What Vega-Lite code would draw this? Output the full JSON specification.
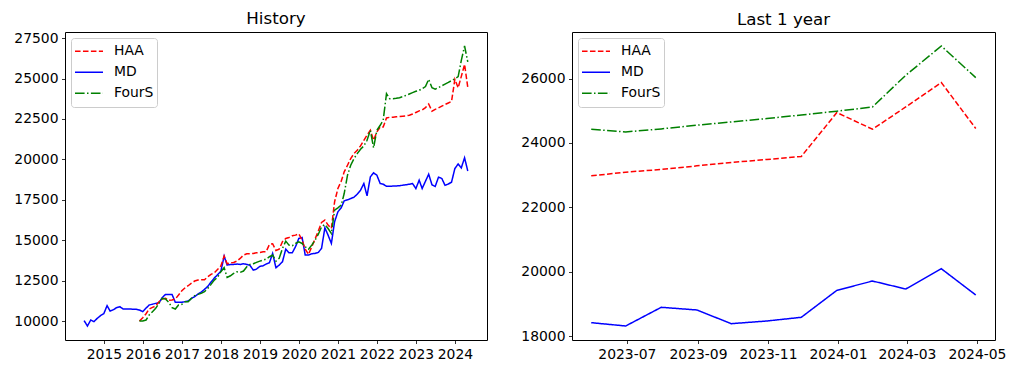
{
"$schema": "https://vega.github.io/schema/vega-lite/v6.json",
"background": "white",
"padding": {"left": 13, "top": 10, "right": 5, "bottom": 5},
"bounds": "flush",
"spacing": 85,
"config": {
 "font": "DejaVu Sans",
 "view": {"stroke": "black", "strokeWidth": 1},
 "axis": {"grid": false, "domain": false, "tickColor": "black", "tickSize": 3.5, "tickWidth": 0.8, "labelColor": "black", "labelFontSize": 13.9, "labelFont": "DejaVu Sans", "labelPadding": 3.5, "labelFlush": false, "labelOverlap": false},
 "title": {"fontSize": 16.7, "fontWeight": "normal", "font": "DejaVu Sans", "color": "black", "offset": 3, "baseline": "alphabetic", "anchor": "middle", "frame": "group"},
 "legend": {"orient": "top-left", "offset": 6, "padding": 3, "symbolType": "stroke", "symbolSize": 784, "symbolStrokeWidth": 1.5, "labelFontSize": 13.9, "labelFont": "DejaVu Sans", "labelColor": "black", "strokeColor": "#cccccc", "fillColor": "rgba(255,255,255,0.8)", "cornerRadius": 3, "rowPadding": 0, "labelOffset": 10, "clipHeight": 20.7}
},
"data": {"values": [
{"date":"2014-06-30","series":"MD","value":10021},
{"date":"2014-07-31","series":"MD","value":9691},
{"date":"2014-08-31","series":"MD","value":10062},
{"date":"2014-09-30","series":"MD","value":9959},
{"date":"2014-10-31","series":"MD","value":10165},
{"date":"2014-11-30","series":"MD","value":10329},
{"date":"2014-12-31","series":"MD","value":10453},
{"date":"2015-01-31","series":"MD","value":10947},
{"date":"2015-02-28","series":"MD","value":10618},
{"date":"2015-03-31","series":"MD","value":10700},
{"date":"2015-04-30","series":"MD","value":10824},
{"date":"2015-05-31","series":"MD","value":10885},
{"date":"2015-06-30","series":"MD","value":10741},
{"date":"2015-07-31","series":"MD","value":10741},
{"date":"2015-08-31","series":"MD","value":10741},
{"date":"2015-09-30","series":"MD","value":10730},
{"date":"2015-10-31","series":"MD","value":10721},
{"date":"2015-11-30","series":"MD","value":10680},
{"date":"2015-12-31","series":"MD","value":10577},
{"date":"2016-01-31","series":"MD","value":10800},
{"date":"2016-02-29","series":"MD","value":10988},
{"date":"2016-03-31","series":"MD","value":11040},
{"date":"2016-04-30","series":"MD","value":11091},
{"date":"2016-05-31","series":"MD","value":11132},
{"date":"2016-06-30","series":"MD","value":11441},
{"date":"2016-07-31","series":"MD","value":11647},
{"date":"2016-08-31","series":"MD","value":11647},
{"date":"2016-09-30","series":"MD","value":11647},
{"date":"2016-10-31","series":"MD","value":11153},
{"date":"2016-11-30","series":"MD","value":11153},
{"date":"2016-12-31","series":"MD","value":11153},
{"date":"2017-01-31","series":"MD","value":11200},
{"date":"2017-02-28","series":"MD","value":11235},
{"date":"2017-03-31","series":"MD","value":11400},
{"date":"2017-04-30","series":"MD","value":11503},
{"date":"2017-05-31","series":"MD","value":11668},
{"date":"2017-06-30","series":"MD","value":11791},
{"date":"2017-07-31","series":"MD","value":11956},
{"date":"2017-08-31","series":"MD","value":12141},
{"date":"2017-09-30","series":"MD","value":12409},
{"date":"2017-10-31","series":"MD","value":12656},
{"date":"2017-11-30","series":"MD","value":12862},
{"date":"2017-12-31","series":"MD","value":13068},
{"date":"2018-01-31","series":"MD","value":14015},
{"date":"2018-02-28","series":"MD","value":13459},
{"date":"2018-03-31","series":"MD","value":13500},
{"date":"2018-04-30","series":"MD","value":13500},
{"date":"2018-05-31","series":"MD","value":13521},
{"date":"2018-06-30","series":"MD","value":13500},
{"date":"2018-07-31","series":"MD","value":13541},
{"date":"2018-08-31","series":"MD","value":13500},
{"date":"2018-09-30","series":"MD","value":13438},
{"date":"2018-10-31","series":"MD","value":13150},
{"date":"2018-11-30","series":"MD","value":13212},
{"date":"2018-12-31","series":"MD","value":13377},
{"date":"2019-01-31","series":"MD","value":13418},
{"date":"2019-02-28","series":"MD","value":13521},
{"date":"2019-03-31","series":"MD","value":13603},
{"date":"2019-04-30","series":"MD","value":14180},
{"date":"2019-05-31","series":"MD","value":13294},
{"date":"2019-06-30","series":"MD","value":13459},
{"date":"2019-07-31","series":"MD","value":13665},
{"date":"2019-08-31","series":"MD","value":14447},
{"date":"2019-09-30","series":"MD","value":14221},
{"date":"2019-10-31","series":"MD","value":14221},
{"date":"2019-11-30","series":"MD","value":14592},
{"date":"2019-12-31","series":"MD","value":15106},
{"date":"2020-01-31","series":"MD","value":15168},
{"date":"2020-02-29","series":"MD","value":14077},
{"date":"2020-03-31","series":"MD","value":14077},
{"date":"2020-04-30","series":"MD","value":14159},
{"date":"2020-05-31","series":"MD","value":14180},
{"date":"2020-06-30","series":"MD","value":14241},
{"date":"2020-07-31","series":"MD","value":14489},
{"date":"2020-08-31","series":"MD","value":15765},
{"date":"2020-09-30","series":"MD","value":15312},
{"date":"2020-10-31","series":"MD","value":14797},
{"date":"2020-11-30","series":"MD","value":16136},
{"date":"2020-12-31","series":"MD","value":16754},
{"date":"2021-01-31","series":"MD","value":17001},
{"date":"2021-02-28","series":"MD","value":17433},
{"date":"2021-03-31","series":"MD","value":17495},
{"date":"2021-04-30","series":"MD","value":17577},
{"date":"2021-05-31","series":"MD","value":17660},
{"date":"2021-06-30","series":"MD","value":17845},
{"date":"2021-07-31","series":"MD","value":18092},
{"date":"2021-08-31","series":"MD","value":18504},
{"date":"2021-09-30","series":"MD","value":17742},
{"date":"2021-10-31","series":"MD","value":18915},
{"date":"2021-11-30","series":"MD","value":19163},
{"date":"2021-12-31","series":"MD","value":19018},
{"date":"2022-01-31","series":"MD","value":18504},
{"date":"2022-02-28","series":"MD","value":18463},
{"date":"2022-03-31","series":"MD","value":18339},
{"date":"2022-04-30","series":"MD","value":18339},
{"date":"2022-05-31","series":"MD","value":18345},
{"date":"2022-06-30","series":"MD","value":18350},
{"date":"2022-07-31","series":"MD","value":18370},
{"date":"2022-08-31","series":"MD","value":18400},
{"date":"2022-09-30","series":"MD","value":18430},
{"date":"2022-10-31","series":"MD","value":18460},
{"date":"2022-11-30","series":"MD","value":18504},
{"date":"2022-12-31","series":"MD","value":18195},
{"date":"2023-01-31","series":"MD","value":18710},
{"date":"2023-02-28","series":"MD","value":18195},
{"date":"2023-03-31","series":"MD","value":18648},
{"date":"2023-04-30","series":"MD","value":19080},
{"date":"2023-05-31","series":"MD","value":18422},
{"date":"2023-06-30","series":"MD","value":18319},
{"date":"2023-07-31","series":"MD","value":18899},
{"date":"2023-08-31","series":"MD","value":18816},
{"date":"2023-09-30","series":"MD","value":18391},
{"date":"2023-10-31","series":"MD","value":18474},
{"date":"2023-11-30","series":"MD","value":18589},
{"date":"2023-12-31","series":"MD","value":19426},
{"date":"2024-01-31","series":"MD","value":19715},
{"date":"2024-02-29","series":"MD","value":19467},
{"date":"2024-03-31","series":"MD","value":20096},
{"date":"2024-04-30","series":"MD","value":19281},
{"date":"2015-11-30","series":"HAA","value":10000},
{"date":"2015-12-31","series":"HAA","value":10206},
{"date":"2016-01-31","series":"HAA","value":10453},
{"date":"2016-02-29","series":"HAA","value":10741},
{"date":"2016-03-31","series":"HAA","value":10844},
{"date":"2016-04-30","series":"HAA","value":10927},
{"date":"2016-05-31","series":"HAA","value":11194},
{"date":"2016-06-30","series":"HAA","value":11359},
{"date":"2016-07-31","series":"HAA","value":11400},
{"date":"2016-08-31","series":"HAA","value":11277},
{"date":"2016-09-30","series":"HAA","value":11297},
{"date":"2016-10-31","series":"HAA","value":11359},
{"date":"2016-11-30","series":"HAA","value":11606},
{"date":"2016-12-31","series":"HAA","value":11874},
{"date":"2017-01-31","series":"HAA","value":12059},
{"date":"2017-02-28","series":"HAA","value":12183},
{"date":"2017-03-31","series":"HAA","value":12347},
{"date":"2017-04-30","series":"HAA","value":12471},
{"date":"2017-05-31","series":"HAA","value":12533},
{"date":"2017-06-30","series":"HAA","value":12553},
{"date":"2017-07-31","series":"HAA","value":12553},
{"date":"2017-08-31","series":"HAA","value":12738},
{"date":"2017-09-30","series":"HAA","value":12883},
{"date":"2017-10-31","series":"HAA","value":12986},
{"date":"2017-11-30","series":"HAA","value":13191},
{"date":"2017-12-31","series":"HAA","value":13400},
{"date":"2018-01-31","series":"HAA","value":14015},
{"date":"2018-02-28","series":"HAA","value":13541},
{"date":"2018-03-31","series":"HAA","value":13603},
{"date":"2018-04-30","series":"HAA","value":13624},
{"date":"2018-05-31","series":"HAA","value":13706},
{"date":"2018-06-30","series":"HAA","value":13871},
{"date":"2018-07-31","series":"HAA","value":14077},
{"date":"2018-08-31","series":"HAA","value":14159},
{"date":"2018-09-30","series":"HAA","value":14159},
{"date":"2018-10-31","series":"HAA","value":14180},
{"date":"2018-11-30","series":"HAA","value":14221},
{"date":"2018-12-31","series":"HAA","value":14242},
{"date":"2019-01-31","series":"HAA","value":14283},
{"date":"2019-02-28","series":"HAA","value":14283},
{"date":"2019-03-31","series":"HAA","value":14736},
{"date":"2019-04-30","series":"HAA","value":14777},
{"date":"2019-05-31","series":"HAA","value":14365},
{"date":"2019-06-30","series":"HAA","value":14447},
{"date":"2019-07-31","series":"HAA","value":14900},
{"date":"2019-08-31","series":"HAA","value":15106},
{"date":"2019-09-30","series":"HAA","value":15168},
{"date":"2019-10-31","series":"HAA","value":15271},
{"date":"2019-11-30","series":"HAA","value":15312},
{"date":"2019-12-31","series":"HAA","value":15394},
{"date":"2020-01-31","series":"HAA","value":15003},
{"date":"2020-02-29","series":"HAA","value":14447},
{"date":"2020-03-31","series":"HAA","value":14118},
{"date":"2020-04-30","series":"HAA","value":14592},
{"date":"2020-05-31","series":"HAA","value":15065},
{"date":"2020-06-30","series":"HAA","value":15559},
{"date":"2020-07-31","series":"HAA","value":16095},
{"date":"2020-08-31","series":"HAA","value":16239},
{"date":"2020-09-30","series":"HAA","value":15930},
{"date":"2020-10-31","series":"HAA","value":15724},
{"date":"2020-11-30","series":"HAA","value":17371},
{"date":"2020-12-31","series":"HAA","value":18195},
{"date":"2021-01-31","series":"HAA","value":18648},
{"date":"2021-02-28","series":"HAA","value":19224},
{"date":"2021-03-31","series":"HAA","value":19636},
{"date":"2021-04-30","series":"HAA","value":20048},
{"date":"2021-05-31","series":"HAA","value":20357},
{"date":"2021-06-30","series":"HAA","value":20563},
{"date":"2021-07-31","series":"HAA","value":20830},
{"date":"2021-08-31","series":"HAA","value":21180},
{"date":"2021-09-30","series":"HAA","value":21500},
{"date":"2021-10-31","series":"HAA","value":21798},
{"date":"2021-11-30","series":"HAA","value":21180},
{"date":"2021-12-31","series":"HAA","value":21695},
{"date":"2022-01-31","series":"HAA","value":22004},
{"date":"2022-02-28","series":"HAA","value":22000},
{"date":"2022-03-31","series":"HAA","value":22560},
{"date":"2022-04-30","series":"HAA","value":22600},
{"date":"2022-05-31","series":"HAA","value":22610},
{"date":"2022-06-30","series":"HAA","value":22630},
{"date":"2022-07-31","series":"HAA","value":22650},
{"date":"2022-08-31","series":"HAA","value":22670},
{"date":"2022-09-30","series":"HAA","value":22690},
{"date":"2022-10-31","series":"HAA","value":22730},
{"date":"2022-11-30","series":"HAA","value":22800},
{"date":"2022-12-31","series":"HAA","value":22900},
{"date":"2023-01-31","series":"HAA","value":23000},
{"date":"2023-02-28","series":"HAA","value":23050},
{"date":"2023-03-31","series":"HAA","value":23200},
{"date":"2023-04-30","series":"HAA","value":23420},
{"date":"2023-05-31","series":"HAA","value":22980},
{"date":"2023-06-30","series":"HAA","value":23095},
{"date":"2023-07-31","series":"HAA","value":23178},
{"date":"2023-08-31","series":"HAA","value":23290},
{"date":"2023-09-30","series":"HAA","value":23395},
{"date":"2023-10-31","series":"HAA","value":23488},
{"date":"2023-11-30","series":"HAA","value":23581},
{"date":"2023-12-31","series":"HAA","value":24946},
{"date":"2024-01-31","series":"HAA","value":24428},
{"date":"2024-02-29","series":"HAA","value":25119},
{"date":"2024-03-31","series":"HAA","value":25876},
{"date":"2024-04-30","series":"HAA","value":24450},
{"date":"2015-11-30","series":"FourS","value":10000},
{"date":"2015-12-31","series":"FourS","value":10000},
{"date":"2016-01-31","series":"FourS","value":10062},
{"date":"2016-02-29","series":"FourS","value":10371},
{"date":"2016-03-31","series":"FourS","value":10577},
{"date":"2016-04-30","series":"FourS","value":10782},
{"date":"2016-05-31","series":"FourS","value":11091},
{"date":"2016-06-30","series":"FourS","value":11400},
{"date":"2016-07-31","series":"FourS","value":11359},
{"date":"2016-08-31","series":"FourS","value":11153},
{"date":"2016-09-30","series":"FourS","value":10824},
{"date":"2016-10-31","series":"FourS","value":10741},
{"date":"2016-11-30","series":"FourS","value":10988},
{"date":"2016-12-31","series":"FourS","value":11030},
{"date":"2017-01-31","series":"FourS","value":11194},
{"date":"2017-02-28","series":"FourS","value":11194},
{"date":"2017-03-31","series":"FourS","value":11400},
{"date":"2017-04-30","series":"FourS","value":11565},
{"date":"2017-05-31","series":"FourS","value":11647},
{"date":"2017-06-30","series":"FourS","value":11709},
{"date":"2017-07-31","series":"FourS","value":11812},
{"date":"2017-08-31","series":"FourS","value":12018},
{"date":"2017-09-30","series":"FourS","value":12265},
{"date":"2017-10-31","series":"FourS","value":12533},
{"date":"2017-11-30","series":"FourS","value":12697},
{"date":"2017-12-31","series":"FourS","value":13047},
{"date":"2018-01-31","series":"FourS","value":13300},
{"date":"2018-02-28","series":"FourS","value":12697},
{"date":"2018-03-31","series":"FourS","value":12800},
{"date":"2018-04-30","series":"FourS","value":12944},
{"date":"2018-05-31","series":"FourS","value":13047},
{"date":"2018-06-30","series":"FourS","value":13006},
{"date":"2018-07-31","series":"FourS","value":13089},
{"date":"2018-08-31","series":"FourS","value":13356},
{"date":"2018-09-30","series":"FourS","value":13500},
{"date":"2018-10-31","series":"FourS","value":13541},
{"date":"2018-11-30","series":"FourS","value":13624},
{"date":"2018-12-31","series":"FourS","value":13706},
{"date":"2019-01-31","series":"FourS","value":13768},
{"date":"2019-02-28","series":"FourS","value":13830},
{"date":"2019-03-31","series":"FourS","value":13974},
{"date":"2019-04-30","series":"FourS","value":14077},
{"date":"2019-05-31","series":"FourS","value":13706},
{"date":"2019-06-30","series":"FourS","value":13871},
{"date":"2019-07-31","series":"FourS","value":14489},
{"date":"2019-08-31","series":"FourS","value":14942},
{"date":"2019-09-30","series":"FourS","value":14695},
{"date":"2019-10-31","series":"FourS","value":14653},
{"date":"2019-11-30","series":"FourS","value":14797},
{"date":"2019-12-31","series":"FourS","value":14900},
{"date":"2020-01-31","series":"FourS","value":14797},
{"date":"2020-02-29","series":"FourS","value":14592},
{"date":"2020-03-31","series":"FourS","value":14447},
{"date":"2020-04-30","series":"FourS","value":14695},
{"date":"2020-05-31","series":"FourS","value":15003},
{"date":"2020-06-30","series":"FourS","value":15353},
{"date":"2020-07-31","series":"FourS","value":15827},
{"date":"2020-08-31","series":"FourS","value":15971},
{"date":"2020-09-30","series":"FourS","value":15724},
{"date":"2020-10-31","series":"FourS","value":15415},
{"date":"2020-11-30","series":"FourS","value":16856},
{"date":"2020-12-31","series":"FourS","value":17001},
{"date":"2021-01-31","series":"FourS","value":17165},
{"date":"2021-02-28","series":"FourS","value":17886},
{"date":"2021-03-31","series":"FourS","value":19018},
{"date":"2021-04-30","series":"FourS","value":19636},
{"date":"2021-05-31","series":"FourS","value":20048},
{"date":"2021-06-30","series":"FourS","value":20357},
{"date":"2021-07-31","series":"FourS","value":20624},
{"date":"2021-08-31","series":"FourS","value":20830},
{"date":"2021-09-30","series":"FourS","value":21180},
{"date":"2021-10-31","series":"FourS","value":21798},
{"date":"2021-11-30","series":"FourS","value":20707},
{"date":"2021-12-31","series":"FourS","value":21798},
{"date":"2022-01-31","series":"FourS","value":22107},
{"date":"2022-02-28","series":"FourS","value":22416},
{"date":"2022-03-31","series":"FourS","value":24063},
{"date":"2022-04-30","series":"FourS","value":23754},
{"date":"2022-05-31","series":"FourS","value":23754},
{"date":"2022-06-30","series":"FourS","value":23775},
{"date":"2022-07-31","series":"FourS","value":23816},
{"date":"2022-08-31","series":"FourS","value":23878},
{"date":"2022-09-30","series":"FourS","value":23960},
{"date":"2022-10-31","series":"FourS","value":24042},
{"date":"2022-11-30","series":"FourS","value":24125},
{"date":"2022-12-31","series":"FourS","value":24207},
{"date":"2023-01-31","series":"FourS","value":24269},
{"date":"2023-02-28","series":"FourS","value":24372},
{"date":"2023-03-31","series":"FourS","value":24500},
{"date":"2023-04-30","series":"FourS","value":24950},
{"date":"2023-05-31","series":"FourS","value":24428},
{"date":"2023-06-30","series":"FourS","value":24344},
{"date":"2023-07-31","series":"FourS","value":24437},
{"date":"2023-08-31","series":"FourS","value":24552},
{"date":"2023-09-30","series":"FourS","value":24654},
{"date":"2023-10-31","series":"FourS","value":24760},
{"date":"2023-11-30","series":"FourS","value":24871},
{"date":"2023-12-31","series":"FourS","value":24986},
{"date":"2024-01-31","series":"FourS","value":25119},
{"date":"2024-02-29","series":"FourS","value":26102},
{"date":"2024-03-31","series":"FourS","value":27011},
{"date":"2024-04-30","series":"FourS","value":26031}
]},
"resolve": {"scale": {"color": "independent", "strokeDash": "independent"}, "legend": {"color": "independent", "strokeDash": "independent"}},
"hconcat": [
 {
  "title": {"text": "History"},
  "width": 422, "height": 308,
  "mark": {"type": "line", "strokeWidth": 1.5},
  "encoding": {
   "x": {"field": "date", "type": "temporal", "title": null,
     "scale": {"type": "utc", "domain": [{"year": 2014, "month": 1, "date": 2, "utc": true}, {"year": 2024, "month": 10, "date": 27, "utc": true}]},
     "axis": {"format": "%Y", "values": [{"year": 2015, "month": 1, "date": 1, "utc": true}, {"year": 2016, "month": 1, "date": 1, "utc": true}, {"year": 2017, "month": 1, "date": 1, "utc": true}, {"year": 2018, "month": 1, "date": 1, "utc": true}, {"year": 2019, "month": 1, "date": 1, "utc": true}, {"year": 2020, "month": 1, "date": 1, "utc": true}, {"year": 2021, "month": 1, "date": 1, "utc": true}, {"year": 2022, "month": 1, "date": 1, "utc": true}, {"year": 2023, "month": 1, "date": 1, "utc": true}, {"year": 2024, "month": 1, "date": 1, "utc": true}]}},
   "y": {"field": "value", "type": "quantitative", "title": null,
     "scale": {"domain": [8825, 27877], "nice": false, "zero": false},
     "axis": {"format": "d", "values": [10000, 12500, 15000, 17500, 20000, 22500, 25000, 27500]}},
   "color": {"field": "series", "type": "nominal", "legend": {"title": null},
     "scale": {"domain": ["HAA", "MD", "FourS"], "range": ["#ff0000", "#0000ff", "#008000"]}},
   "strokeDash": {"field": "series", "type": "nominal", "legend": {"title": null},
     "scale": {"domain": ["HAA", "MD", "FourS"], "range": [[5.55, 2.4], [1, 0], [9.6, 2.4, 1.5, 2.4]]}}
  }
 },
 {
  "title": {"text": "Last 1 year"},
  "width": 423, "height": 308,
  "transform": [{"filter": {"field": "date", "gte": {"year": 2023, "month": 5, "date": 1, "utc": true}}}],
  "mark": {"type": "line", "strokeWidth": 1.5},
  "encoding": {
   "x": {"field": "date", "type": "temporal", "title": null,
     "scale": {"type": "utc", "domain": [{"year": 2023, "month": 5, "date": 14, "hours": 6, "utc": true}, {"year": 2024, "month": 5, "date": 16, "hours": 18, "utc": true}]},
     "axis": {"format": "%Y-%m", "values": [{"year": 2023, "month": 7, "date": 1, "utc": true}, {"year": 2023, "month": 9, "date": 1, "utc": true}, {"year": 2023, "month": 11, "date": 1, "utc": true}, {"year": 2024, "month": 1, "date": 1, "utc": true}, {"year": 2024, "month": 3, "date": 1, "utc": true}, {"year": 2024, "month": 5, "date": 1, "utc": true}]}},
   "y": {"field": "value", "type": "quantitative", "title": null,
     "scale": {"domain": [17884, 27446], "nice": false, "zero": false},
     "axis": {"format": "d", "values": [18000, 20000, 22000, 24000, 26000]}},
   "color": {"field": "series", "type": "nominal", "legend": {"title": null},
     "scale": {"domain": ["HAA", "MD", "FourS"], "range": ["#ff0000", "#0000ff", "#008000"]}},
   "strokeDash": {"field": "series", "type": "nominal", "legend": {"title": null},
     "scale": {"domain": ["HAA", "MD", "FourS"], "range": [[5.55, 2.4], [1, 0], [9.6, 2.4, 1.5, 2.4]]}}
  }
 }
]
}
